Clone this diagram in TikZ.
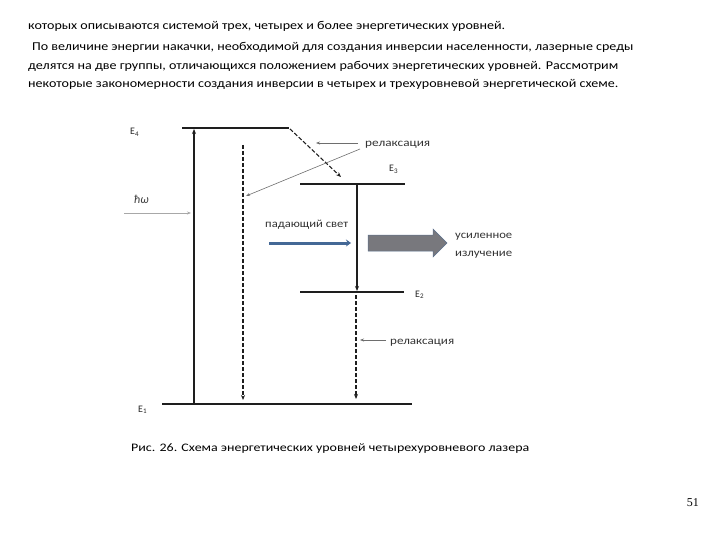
\documentclass[tikz,border=0pt]{standalone}
\usepackage{graphicx}
\usepackage{fontspec}
\setmainfont{Carlito}
\newfontfamily\seriffont{Liberation Serif}
\usetikzlibrary{arrows.meta}
\newcommand{\fitw}[2]{\resizebox{#1}{\height}{#2}}
\definecolor{levelgray}{RGB}{30,30,30}
\definecolor{thingray}{RGB}{110,110,110}
\definecolor{steelb}{RGB}{68,104,150}
\definecolor{bigarrow}{RGB}{120,120,125}
\tikzset{
  level/.style={draw=levelgray, line width=1.4pt},
  solidarr/.style={draw=levelgray, line width=1.3pt, -{Stealth[length=5pt,width=4pt]}},
  dasharr/.style={draw=levelgray, line width=1.3pt, dash pattern=on 4pt off 2pt, -{Stealth[length=5pt,width=4pt]}},
  thinarr/.style={draw=thingray, line width=0.6pt, -{Stealth[length=4pt,width=3pt]}},
  bodytext/.style={anchor=base west, inner sep=0pt, font=\fontsize{12}{14}\selectfont},
  lbl/.style={anchor=base west, inner sep=0pt, font=\fontsize{11}{13}\selectfont, text=black!80},
  elbl/.style={anchor=base west, inner sep=0pt, font=\fontsize{10}{12}\selectfont, text=black!85},
}
\begin{document}
\begin{tikzpicture}[x=1pt,y=-1pt]
\useasboundingbox (0,0) rectangle (720,540);
% body text
\node[bodytext] (t1) at (28,30) {\fitw{477pt}{которых описываются системой трех, четырех и более энергетических уровней.}};
\node[bodytext] (t2) at (32,51) {\fitw{601pt}{По величине энергии накачки, необходимой для создания инверсии населенности, лазерные среды}};
\node[bodytext] (t3) at (28,70) {\fitw{590pt}{делятся на две группы, отличающихся положением рабочих энергетических уровней. Рассмотрим}};
\node[bodytext] (t4) at (28,88) {\fitw{590pt}{некоторые закономерности создания инверсии в четырех и трехуровневой энергетической схеме.}};
% levels
\coordinate (e4l) at (182,128); \coordinate (e4r) at (289,128);
\coordinate (e3l) at (300,184); \coordinate (e3r) at (405,184);
\coordinate (e2l) at (300,292); \coordinate (e2r) at (404,292);
\coordinate (e1l) at (162,404); \coordinate (e1r) at (412,404);
\draw[level] (e4l) -- (e4r);
\draw[level] (e3l) -- (e3r);
\draw[level] (e2l) -- (e2r);
\draw[level] (e1l) -- (e1r);
\node[elbl] (E4) at (130,135) {E\textsubscript{4}};
\node[elbl] (E3) at (389,172) {E\textsubscript{3}};
\node[elbl] (E2) at (415,297) {E\textsubscript{2}};
\node[elbl] (E1) at (138,412) {E\textsubscript{1}};
% pump arrow
\coordinate (pb) at (194,404); \coordinate (pt) at (194,129);
\draw[solidarr] (pb) -- (pt);
% dashed from E4 down
\coordinate (d1t) at (243,145); \coordinate (d1b) at (243,400);
\draw[dasharr] (d1t) -- (d1b);
% dashed diagonal E4 -> E3
\coordinate (dgs) at (290,129); \coordinate (dge) at (341,177);
\draw[dasharr, line width=1.1pt] (dgs) -- (dge);
% relaxation label top
\node[lbl] (rel1) at (365,147) {\fitw{65pt}{релаксация}};
\coordinate (r1a) at (358,143); \coordinate (r1b) at (316,143);
\draw[thinarr] (r1a) -- (r1b);
\coordinate (r1c) at (360,149); \coordinate (r1d) at (246,196);
\draw[thinarr] (r1c) -- (r1d);
% h omega
\node[anchor=base west, inner sep=0pt, font=\fontsize{12}{14}\selectfont\itshape, text=black!75] (hw) at (134,204) {ħω};
\coordinate (hwa) at (124,213); \coordinate (hwb) at (191,213);
\draw[thinarr, draw=thingray!60] (hwa) -- (hwb);
% laser transition
\coordinate (lt) at (357,185); \coordinate (lb) at (357,291);
\draw[solidarr] (lt) -- (lb);
% incident light
\node[lbl] (inc) at (265,227) {\fitw{83pt}{падающий свет}};
\coordinate (ia) at (269,243); \coordinate (ib) at (351,243);
\draw[draw=steelb, line width=3pt, -{Stealth[length=5pt,width=7pt]}] (ia) -- (ib);
% amplified radiation big arrow
\fill[bigarrow, draw=steelb!60!gray, line width=0.5pt] (368,235) -- (433,235) -- (433,229) -- (447,243) -- (433,257) -- (433,251) -- (368,251) -- cycle;
\node[lbl] (amp1) at (455,239) {\fitw{57pt}{усиленное}};
\node[lbl] (amp2) at (455,256) {\fitw{57pt}{излучение}};
% dashed E2 -> E1
\coordinate (d2t) at (356,295); \coordinate (d2b) at (356,399);
\draw[dasharr] (d2t) -- (d2b);
\node[lbl] (rel2) at (390,344) {\fitw{64pt}{релаксация}};
\coordinate (r2a) at (386,340); \coordinate (r2b) at (360,340);
\draw[thinarr] (r2a) -- (r2b);
% caption
\node[bodytext, font=\fontsize{11.5}{13}\selectfont] (cap) at (131,451) {\fitw{398pt}{Рис. 26. Схема энергетических уровней четырехуровневого лазера}};
\node[anchor=base east, inner sep=0pt, font=\seriffont\fontsize{12}{14}\selectfont] (pg) at (699,506) {51};
\end{tikzpicture}
\end{document}
